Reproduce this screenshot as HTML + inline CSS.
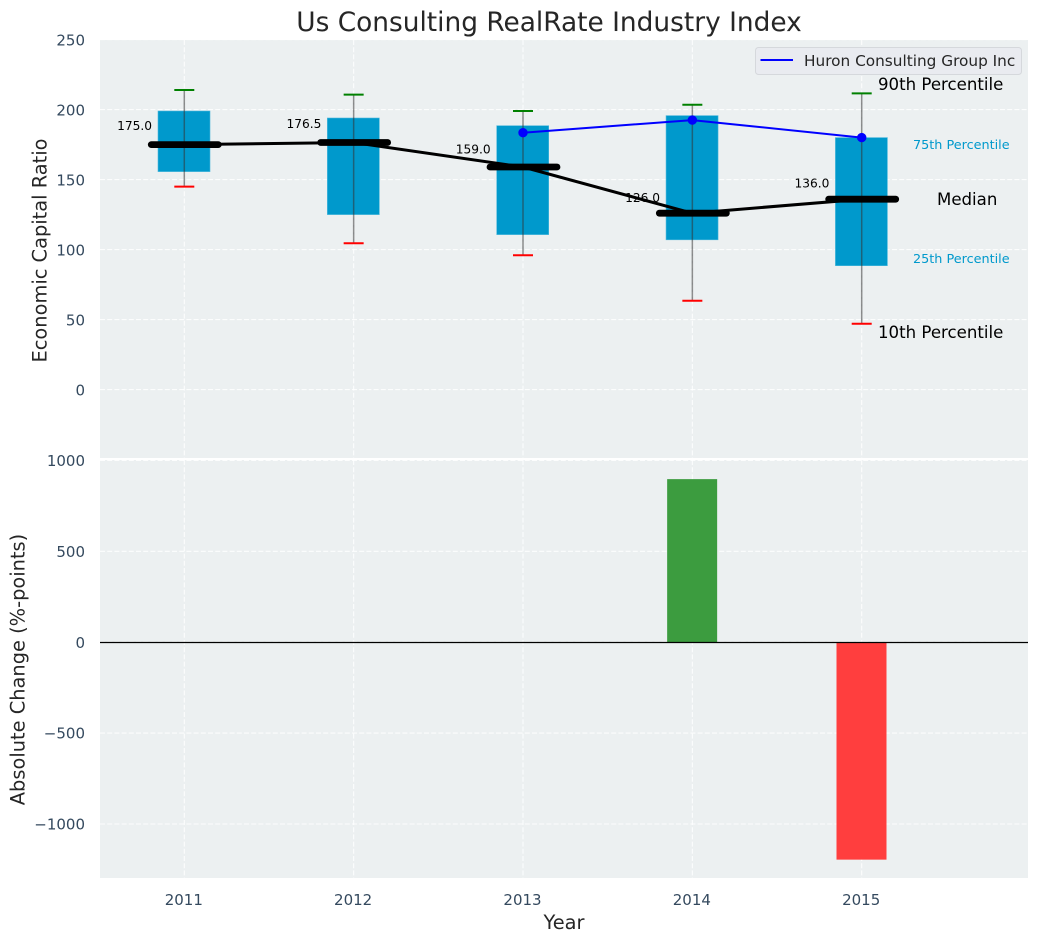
<!DOCTYPE html>
<html>
<head>
<meta charset="utf-8">
<title>Us Consulting RealRate Industry Index</title>
<style>
html,body{margin:0;padding:0;background:#fff;}
svg{display:block;font-family:"DejaVu Sans","Liberation Sans",sans-serif;}
</style>
</head>
<body>
<svg id="chart" width="1039" height="942" viewBox="0 0 1039 942" xmlns="http://www.w3.org/2000/svg"></svg>
<script>
const years = [2011, 2012, 2013, 2014, 2015];
const p10 = [145, 104.5, 96, 63.5, 47];
const p25 = [155.7, 125, 110.7, 107, 88.5];
const medians = [175, 176.5, 159, 126, 136];
const p75 = [199, 194, 188.5, 195.7, 180];
const p90 = [214, 210.7, 199, 203.5, 211.6];
const companyYears = [2013, 2014, 2015];
const companyValues = [183.5, 192.5, 180];
const changeYears = [2014, 2015];
const changeValues = [897, -1196];
const topTicks = [0, 50, 100, 150, 200, 250];
const bottomTicks = [-1000, -500, 0, 500, 1000];

const svgNS = 'http://www.w3.org/2000/svg';
const svg = document.getElementById('chart');
const PL = 100, PR = 1028, TT = 40, TB = 458, BT = 460, BB = 878;
const x = v => 184.3 + (v - 2011) * 169.35;
const yTop = v => 389.6 - v * 1.4;
const yBot = v => 642.2 - v * 0.1818;

function make(tag, attrs, text) {
  const el = document.createElementNS(svgNS, tag);
  for (const k in attrs) el.setAttribute(k, attrs[k]);
  if (text !== undefined) el.textContent = text;
  svg.appendChild(el);
  return el;
}
function label(el, name) {
  
  
}
const GRID = {stroke:'#ffffff','stroke-width':1.1,'stroke-dasharray':'5,2.2','stroke-opacity':0.85};
const TICK = '#34495e';

// panel backgrounds
let e = make('rect', {x:PL,y:TT,width:PR-PL,height:TB-TT,fill:'#ecf0f1'});
label(e, 'top-panel-background');
e = make('rect', {x:PL,y:BT,width:PR-PL,height:BB-BT,fill:'#ecf0f1'});
label(e, 'bottom-panel-background');

// grids
years.forEach(yr => {
  e = make('line', Object.assign({x1:x(yr),x2:x(yr),y1:TT,y2:TB}, GRID));
  label(e, 'top-x-gridline-' + yr);
  e = make('line', Object.assign({x1:x(yr),x2:x(yr),y1:BT,y2:BB}, GRID));
  label(e, 'bottom-x-gridline-' + yr);
});
topTicks.forEach(t => {
  e = make('line', Object.assign({x1:PL,x2:PR,y1:yTop(t),y2:yTop(t)}, GRID));
  label(e, 'top-y-gridline-' + t);
  e = make('text', {x:85,y:yTop(t)+6,'text-anchor':'end','font-size':15,fill:TICK}, String(t));
  label(e, 'top-y-tick-' + t);
});
bottomTicks.forEach(t => {
  e = make('line', Object.assign({x1:PL,x2:PR,y1:yBot(t),y2:yBot(t)}, GRID));
  label(e, 'bottom-y-gridline-' + t);
  e = make('text', {x:85,y:yBot(t)+5.6,'text-anchor':'end','font-size':15,fill:TICK}, String(t).replace('-', '\u2212'));
  label(e, 'bottom-y-tick-' + t);
});

// boxes
years.forEach((yr, i) => {
  e = make('rect', {x:x(yr)-26.3,y:yTop(p75[i]),width:52,height:yTop(p25[i])-yTop(p75[i]),fill:'#0099cc',stroke:'#4db8dc','stroke-width':0.6});
  label(e, 'box-' + yr);
});
// whiskers and caps
years.forEach((yr, i) => {
  e = make('line', {x1:x(yr),x2:x(yr),y1:yTop(p90[i]),y2:yTop(p10[i]),stroke:'#333333','stroke-opacity':0.55,'stroke-width':1.5});
  label(e, 'whisker-' + yr);
  e = make('line', {x1:x(yr)-10,x2:x(yr)+10,y1:yTop(p90[i]),y2:yTop(p90[i]),stroke:'#008000','stroke-width':2});
  label(e, 'cap-p90-' + yr);
  e = make('line', {x1:x(yr)-10,x2:x(yr)+10,y1:yTop(p10[i]),y2:yTop(p10[i]),stroke:'#ff0000','stroke-width':2});
  label(e, 'cap-p10-' + yr);
});
// median trend
e = make('polyline', {points:years.map((yr,i)=>x(yr)+','+yTop(medians[i])).join(' '),fill:'none',stroke:'#000','stroke-width':3});
label(e, 'median-trend-line');
years.forEach((yr, i) => {
  e = make('line', {x1:x(yr)-33,x2:x(yr)+34,y1:yTop(medians[i]),y2:yTop(medians[i]),stroke:'#000','stroke-width':6.8,'stroke-linecap':'round'});
  label(e, 'median-bar-' + yr);
  e = make('text', {x:x(yr)-32.3,y:yTop(medians[i]*1.05)-2.3,'text-anchor':'end','font-size':12.2,fill:'#000'}, medians[i].toFixed(1));
  label(e, 'median-value-' + yr);
});
// company line
e = make('polyline', {points:companyYears.map((yr,i)=>x(yr)+','+yTop(companyValues[i])).join(' '),fill:'none',stroke:'#0000ff','stroke-width':2});
label(e, 'huron-line');
companyYears.forEach((yr, i) => {
  e = make('circle', {cx:x(yr),cy:yTop(companyValues[i]),r:4.7,fill:'#0000ff'});
  label(e, 'huron-point-' + yr);
});
// annotations
e = make('text', {x:878,y:90,'font-size':16.6,fill:'#000'}, '90th Percentile');
label(e, 'annotation-90th-percentile');
e = make('text', {x:878,y:338,'font-size':16.6,fill:'#000'}, '10th Percentile');
label(e, 'annotation-10th-percentile');
e = make('text', {x:937,y:205,'font-size':16.6,fill:'#000'}, 'Median');
label(e, 'annotation-median');
e = make('text', {x:913,y:149,'font-size':12.8,fill:'#0099cc'}, '75th Percentile');
label(e, 'annotation-75th-percentile');
e = make('text', {x:913,y:263,'font-size':12.8,fill:'#0099cc'}, '25th Percentile');
label(e, 'annotation-25th-percentile');
// legend
e = make('rect', {x:755.5,y:47.5,width:266,height:27,rx:3,fill:'#e9ebf0',stroke:'#d5d8dc','stroke-width':1});
label(e, 'legend-box');
e = make('line', {x1:760.5,x2:793,y1:60,y2:60,stroke:'#0000ff','stroke-width':2});
label(e, 'legend-line');
e = make('text', {x:804,y:66,'font-size':15.3,fill:'#262626'}, 'Huron Consulting Group Inc');
label(e, 'legend-label');

// change bars
changeYears.forEach((yr, i) => {
  const v = changeValues[i];
  e = make('rect', {x:x(yr)-25.2,y:Math.min(yBot(0),yBot(v)),width:50,height:Math.abs(yBot(v)-yBot(0)),fill:v>=0?'#3c9c3f':'#ff3e3e'});
  label(e, 'change-bar-' + yr);
});
e = make('line', {x1:PL,x2:PR,y1:642.5,y2:642.5,stroke:'#000','stroke-width':1.2});
label(e, 'zero-line');

// x ticks
years.forEach(yr => {
  e = make('text', {x:x(yr)-0.5,y:905,'text-anchor':'middle','font-size':15,fill:TICK}, String(yr));
  label(e, 'x-tick-' + yr);
});
// titles
e = make('text', {x:549,y:31,'text-anchor':'middle','font-size':26.4,fill:'#262626'}, 'Us Consulting RealRate Industry Index');
label(e, 'chart-title');
e = make('text', {x:564,y:929,'text-anchor':'middle','font-size':19.4,fill:'#262626'}, 'Year');
label(e, 'x-axis-title');
e = make('text', {transform:'translate(46.7,250.5) rotate(-90)','text-anchor':'middle','font-size':19.4,fill:'#262626'}, 'Economic Capital Ratio');
label(e, 'top-y-axis-title');
e = make('text', {transform:'translate(24.5,669.5) rotate(-90)','text-anchor':'middle','font-size':19.4,fill:'#262626'}, 'Absolute Change (%-points)');
label(e, 'bottom-y-axis-title');
</script>
</body>
</html>
